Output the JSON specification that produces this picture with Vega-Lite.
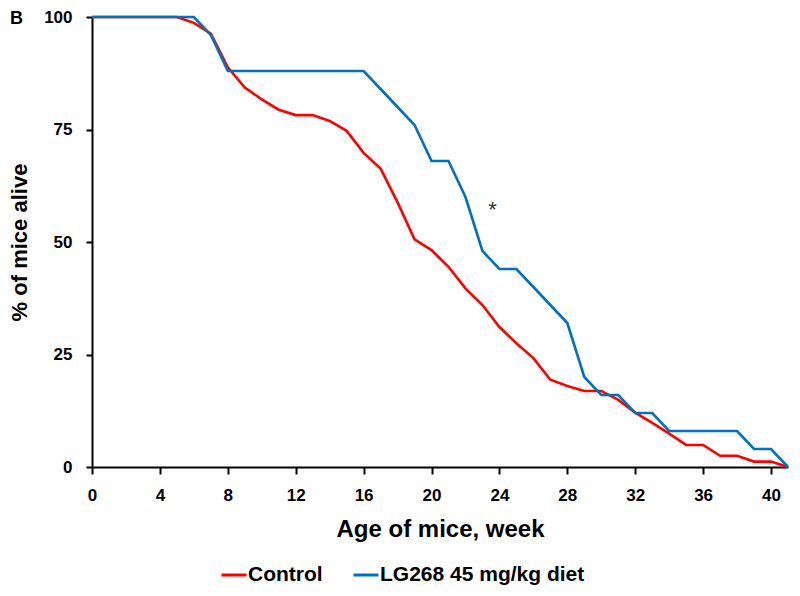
{
  "$schema": "https://vega.github.io/schema/vega-lite/v6.json",
  "autosize": {"type": "none"},
  "width": 696,
  "height": 450,
  "padding": {"left": 92, "top": 17, "right": 12, "bottom": 129},
  "background": "white",
  "config": {
    "view": {"stroke": null},
    "font": "Liberation Sans"
  },
  "title": {
    "text": "B",
    "anchor": "start",
    "frame": "group",
    "dx": -82,
    "dy": 34,
    "offset": 0,
    "baseline": "alphabetic",
    "fontSize": 18,
    "fontWeight": "bold",
    "font": "Liberation Sans",
    "color": "black"
  },
  "datasets": {
    "survival": [
      {"week": 0, "pct": 100, "group": "Control"},
      {"week": 1, "pct": 100, "group": "Control"},
      {"week": 2, "pct": 100, "group": "Control"},
      {"week": 3, "pct": 100, "group": "Control"},
      {"week": 4, "pct": 100, "group": "Control"},
      {"week": 5, "pct": 100, "group": "Control"},
      {"week": 6, "pct": 98.7, "group": "Control"},
      {"week": 7, "pct": 96.3, "group": "Control"},
      {"week": 8, "pct": 88.8, "group": "Control"},
      {"week": 9, "pct": 84.3, "group": "Control"},
      {"week": 10, "pct": 81.7, "group": "Control"},
      {"week": 11, "pct": 79.4, "group": "Control"},
      {"week": 12, "pct": 78.2, "group": "Control"},
      {"week": 13, "pct": 78.2, "group": "Control"},
      {"week": 14, "pct": 76.9, "group": "Control"},
      {"week": 15, "pct": 74.7, "group": "Control"},
      {"week": 16, "pct": 69.8, "group": "Control"},
      {"week": 17, "pct": 66.3, "group": "Control"},
      {"week": 18, "pct": 58.8, "group": "Control"},
      {"week": 19, "pct": 50.6, "group": "Control"},
      {"week": 20, "pct": 48.2, "group": "Control"},
      {"week": 21, "pct": 44.5, "group": "Control"},
      {"week": 22, "pct": 39.7, "group": "Control"},
      {"week": 23, "pct": 36.0, "group": "Control"},
      {"week": 24, "pct": 31.1, "group": "Control"},
      {"week": 25, "pct": 27.5, "group": "Control"},
      {"week": 26, "pct": 24.2, "group": "Control"},
      {"week": 27, "pct": 19.4, "group": "Control"},
      {"week": 28, "pct": 18.0, "group": "Control"},
      {"week": 29, "pct": 16.9, "group": "Control"},
      {"week": 30, "pct": 16.9, "group": "Control"},
      {"week": 31, "pct": 14.9, "group": "Control"},
      {"week": 32, "pct": 12.1, "group": "Control"},
      {"week": 33, "pct": 9.8, "group": "Control"},
      {"week": 34, "pct": 7.4, "group": "Control"},
      {"week": 35, "pct": 4.9, "group": "Control"},
      {"week": 36, "pct": 4.9, "group": "Control"},
      {"week": 37, "pct": 2.5, "group": "Control"},
      {"week": 38, "pct": 2.5, "group": "Control"},
      {"week": 39, "pct": 1.2, "group": "Control"},
      {"week": 40, "pct": 1.2, "group": "Control"},
      {"week": 41, "pct": 0, "group": "Control"},
      {"week": 0, "pct": 100, "group": "LG268 45 mg/kg diet"},
      {"week": 1, "pct": 100, "group": "LG268 45 mg/kg diet"},
      {"week": 2, "pct": 100, "group": "LG268 45 mg/kg diet"},
      {"week": 3, "pct": 100, "group": "LG268 45 mg/kg diet"},
      {"week": 4, "pct": 100, "group": "LG268 45 mg/kg diet"},
      {"week": 5, "pct": 100, "group": "LG268 45 mg/kg diet"},
      {"week": 6, "pct": 100, "group": "LG268 45 mg/kg diet"},
      {"week": 7, "pct": 96, "group": "LG268 45 mg/kg diet"},
      {"week": 8, "pct": 88, "group": "LG268 45 mg/kg diet"},
      {"week": 9, "pct": 88, "group": "LG268 45 mg/kg diet"},
      {"week": 10, "pct": 88, "group": "LG268 45 mg/kg diet"},
      {"week": 11, "pct": 88, "group": "LG268 45 mg/kg diet"},
      {"week": 12, "pct": 88, "group": "LG268 45 mg/kg diet"},
      {"week": 13, "pct": 88, "group": "LG268 45 mg/kg diet"},
      {"week": 14, "pct": 88, "group": "LG268 45 mg/kg diet"},
      {"week": 15, "pct": 88, "group": "LG268 45 mg/kg diet"},
      {"week": 16, "pct": 88, "group": "LG268 45 mg/kg diet"},
      {"week": 17, "pct": 84, "group": "LG268 45 mg/kg diet"},
      {"week": 18, "pct": 80, "group": "LG268 45 mg/kg diet"},
      {"week": 19, "pct": 76, "group": "LG268 45 mg/kg diet"},
      {"week": 20, "pct": 68, "group": "LG268 45 mg/kg diet"},
      {"week": 21, "pct": 68, "group": "LG268 45 mg/kg diet"},
      {"week": 22, "pct": 60, "group": "LG268 45 mg/kg diet"},
      {"week": 23, "pct": 48, "group": "LG268 45 mg/kg diet"},
      {"week": 24, "pct": 44, "group": "LG268 45 mg/kg diet"},
      {"week": 25, "pct": 44, "group": "LG268 45 mg/kg diet"},
      {"week": 26, "pct": 40, "group": "LG268 45 mg/kg diet"},
      {"week": 27, "pct": 36, "group": "LG268 45 mg/kg diet"},
      {"week": 28, "pct": 32, "group": "LG268 45 mg/kg diet"},
      {"week": 29, "pct": 20, "group": "LG268 45 mg/kg diet"},
      {"week": 30, "pct": 16, "group": "LG268 45 mg/kg diet"},
      {"week": 31, "pct": 16, "group": "LG268 45 mg/kg diet"},
      {"week": 32, "pct": 12, "group": "LG268 45 mg/kg diet"},
      {"week": 33, "pct": 12, "group": "LG268 45 mg/kg diet"},
      {"week": 34, "pct": 8, "group": "LG268 45 mg/kg diet"},
      {"week": 35, "pct": 8, "group": "LG268 45 mg/kg diet"},
      {"week": 36, "pct": 8, "group": "LG268 45 mg/kg diet"},
      {"week": 37, "pct": 8, "group": "LG268 45 mg/kg diet"},
      {"week": 38, "pct": 8, "group": "LG268 45 mg/kg diet"},
      {"week": 39, "pct": 4, "group": "LG268 45 mg/kg diet"},
      {"week": 40, "pct": 4, "group": "LG268 45 mg/kg diet"},
      {"week": 41, "pct": 0, "group": "LG268 45 mg/kg diet"}
    ],
    "notes": [
      {"week": 23.6, "pct": 55.6, "label": "*"}
    ]
  },
  "layer": [
    {
      "data": {"name": "survival"},
      "mark": {"type": "line", "strokeWidth": 2.6, "clip": false},
      "encoding": {
        "x": {
          "field": "week",
          "type": "quantitative",
          "scale": {"domain": [0, 41], "nice": false, "zero": true},
          "axis": {
            "title": "Age of mice, week",
            "values": [0, 4, 8, 12, 16, 20, 24, 28, 32, 36, 40],
            "grid": false,
            "domainColor": "black",
            "domainWidth": 2,
            "tickColor": "black",
            "tickWidth": 2,
            "tickSize": 7,
            "labelFont": "Liberation Sans",
            "labelFontSize": 17,
            "labelFontWeight": "bold",
            "labelColor": "black",
            "labelPadding": 13,
            "labelFlush": false,
            "titleFont": "Liberation Sans",
            "titleFontSize": 24,
            "titleFontWeight": "bold",
            "titleColor": "black",
            "titlePadding": 14
          }
        },
        "y": {
          "field": "pct",
          "type": "quantitative",
          "scale": {"domain": [0, 100], "nice": false},
          "axis": {
            "title": "% of mice alive",
            "values": [0, 25, 50, 75, 100],
            "grid": false,
            "domainColor": "black",
            "domainWidth": 2,
            "tickColor": "black",
            "tickWidth": 2,
            "tickSize": 6,
            "labelFont": "Liberation Sans",
            "labelFontSize": 17,
            "labelFontWeight": "bold",
            "labelColor": "black",
            "labelPadding": 14,
            "labelFlush": false,
            "titleFont": "Liberation Sans",
            "titleFontSize": 22,
            "titleFontWeight": "bold",
            "titleColor": "black",
            "titlePadding": 12
          }
        },
        "color": {
          "field": "group",
          "type": "nominal",
          "scale": {"domain": ["Control", "LG268 45 mg/kg diet"], "range": ["#FF0000", "#0070C0"]},
          "legend": {
            "title": null,
            "orient": "none",
            "direction": "horizontal",
            "legendX": 128,
            "legendY": 544,
            "symbolType": "stroke",
            "symbolSize": 625,
            "symbolStrokeWidth": 3,
            "labelFont": "Liberation Sans",
            "labelFontSize": 21,
            "labelFontWeight": "bold",
            "labelColor": "black",
            "labelOffset": 0,
            "columnPadding": 24,
            "labelLimit": 400
          }
        }
      }
    },
    {
      "data": {"name": "notes"},
      "mark": {"type": "text", "fontSize": 22, "font": "Liberation Sans", "color": "#333333", "baseline": "alphabetic", "align": "center"},
      "encoding": {
        "x": {"field": "week", "type": "quantitative"},
        "y": {"field": "pct", "type": "quantitative"},
        "text": {"field": "label"}
      }
    }
  ]
}
